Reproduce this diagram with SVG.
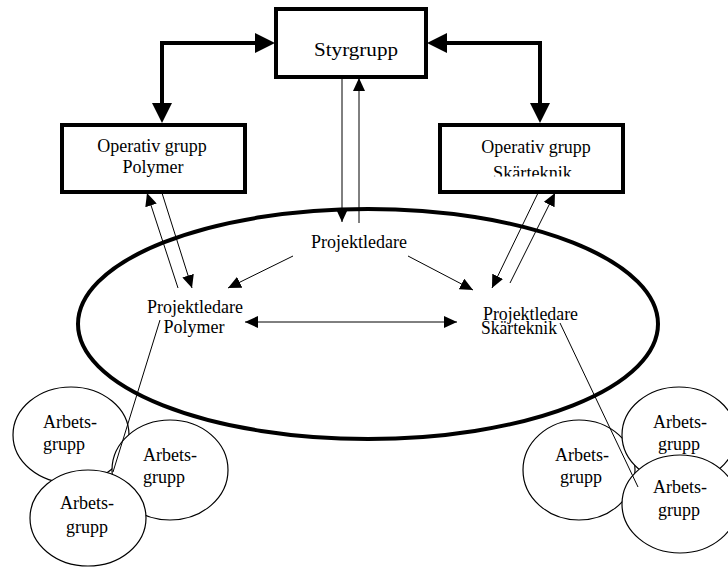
<svg xmlns="http://www.w3.org/2000/svg" width="728" height="567" viewBox="0 0 728 567">
<style>
text{font-family:"Liberation Serif","Times New Roman",serif;font-size:18px;fill:#000}
.box{fill:#fff;stroke:#000;stroke-width:4}
.thick{fill:none;stroke:#000;stroke-width:4}
.thin{fill:none;stroke:#000;stroke-width:1}
.ag{fill:#fff;stroke:#000;stroke-width:1.2}
</style>
<defs>
<marker id="big" markerUnits="userSpaceOnUse" markerWidth="20" markerHeight="20" refX="0" refY="10" orient="auto-start-reverse"><path d="M0,0 L20,10 L0,20 z" fill="#000"/></marker>
<marker id="sm" markerUnits="userSpaceOnUse" markerWidth="13" markerHeight="12" refX="13" refY="6" orient="auto-start-reverse"><path d="M0,0 L13,6 L0,12 z" fill="#000"/></marker>
<clipPath id="clipSk"><rect x="440" y="125" width="183" height="51.5"/></clipPath>
</defs>
<g id="ellipse"><ellipse cx="368" cy="324" rx="290" ry="115" fill="none" stroke="#000" stroke-width="4"/></g>
<g id="styrgrupp"><rect class="box" x="276" y="9" width="150" height="68"/><text x="314" y="56" font-size="24" textLength="84" lengthAdjust="spacingAndGlyphs">Styrgrupp</text></g>
<g id="op-polymer"><rect class="box" x="62" y="125" width="183" height="67"/><text x="152" y="152" text-anchor="middle">Operativ grupp</text><text x="153" y="173" text-anchor="middle">Polymer</text></g>
<g id="op-skarteknik"><rect class="box" x="440" y="125" width="183" height="67"/><text x="536" y="153" text-anchor="middle">Operativ grupp</text><text x="493" y="179" textLength="79" lengthAdjust="spacingAndGlyphs" clip-path="url(#clipSk)">Skärteknik</text></g>
<g id="pl"><text x="359" y="248" text-anchor="middle">Projektledare</text></g>
<g id="pl-polymer"><text x="195" y="313" text-anchor="middle">Projektledare</text><text x="194" y="333" text-anchor="middle">Polymer</text></g>
<g id="pl-skarteknik"><text x="483" y="320" textLength="95" lengthAdjust="spacingAndGlyphs">Projektledare</text><text x="481" y="334" textLength="76" lengthAdjust="spacingAndGlyphs">Skärteknik</text></g>
<g id="ag-left-1"><ellipse class="ag" cx="71" cy="435" rx="58" ry="48"/><text x="43" y="428">Arbets-</text><text x="43" y="450">grupp</text></g>
<g id="ag-left-2"><ellipse class="ag" cx="170" cy="470" rx="58" ry="50"/><text x="143" y="461">Arbets-</text><text x="143" y="483">grupp</text></g>
<g id="ag-left-3"><ellipse class="ag" cx="88" cy="518" rx="58" ry="48"/><text x="60" y="509">Arbets-</text><text x="66" y="533">grupp</text></g>
<g id="ag-right-1"><ellipse class="ag" cx="579" cy="470" rx="56" ry="50"/><text x="555" y="461">Arbets-</text><text x="560" y="483">grupp</text></g>
<g id="ag-right-2"><ellipse class="ag" cx="679" cy="435" rx="57" ry="48"/><text x="653" y="428">Arbets-</text><text x="658" y="450">grupp</text></g>
<g id="ag-right-3"><ellipse class="ag" cx="680" cy="504" rx="58" ry="49"/><text x="653" y="493">Arbets-</text><text x="658" y="516">grupp</text></g>
<g id="connectors">
<path class="thick" d="M255,43 H162 V103" marker-start="url(#big)" marker-end="url(#big)"/>
<path class="thick" d="M447,43 H540 V103" marker-start="url(#big)" marker-end="url(#big)"/>
<path class="thin" d="M342,78 V222" marker-end="url(#sm)"/>
<path class="thin" d="M359,223 V78" marker-end="url(#sm)"/>
<path class="thin" d="M293,256 L228,288" marker-end="url(#sm)"/>
<path class="thin" d="M408,256 L473,290" marker-end="url(#sm)"/>
<path class="thin" d="M245,322 H457" marker-start="url(#sm)" marker-end="url(#sm)"/>
<path class="thin" d="M178,288 L147,193" marker-end="url(#sm)"/>
<path class="thin" d="M162,193 L192,288" marker-end="url(#sm)"/>
<path class="thin" d="M538,193 L492,288" marker-end="url(#sm)"/>
<path class="thin" d="M510,283 L555,193" marker-end="url(#sm)"/>
<path class="thin" d="M160,320 L113,472"/>
<path class="thin" d="M560,323 L638,487"/>
</g>
</svg>
